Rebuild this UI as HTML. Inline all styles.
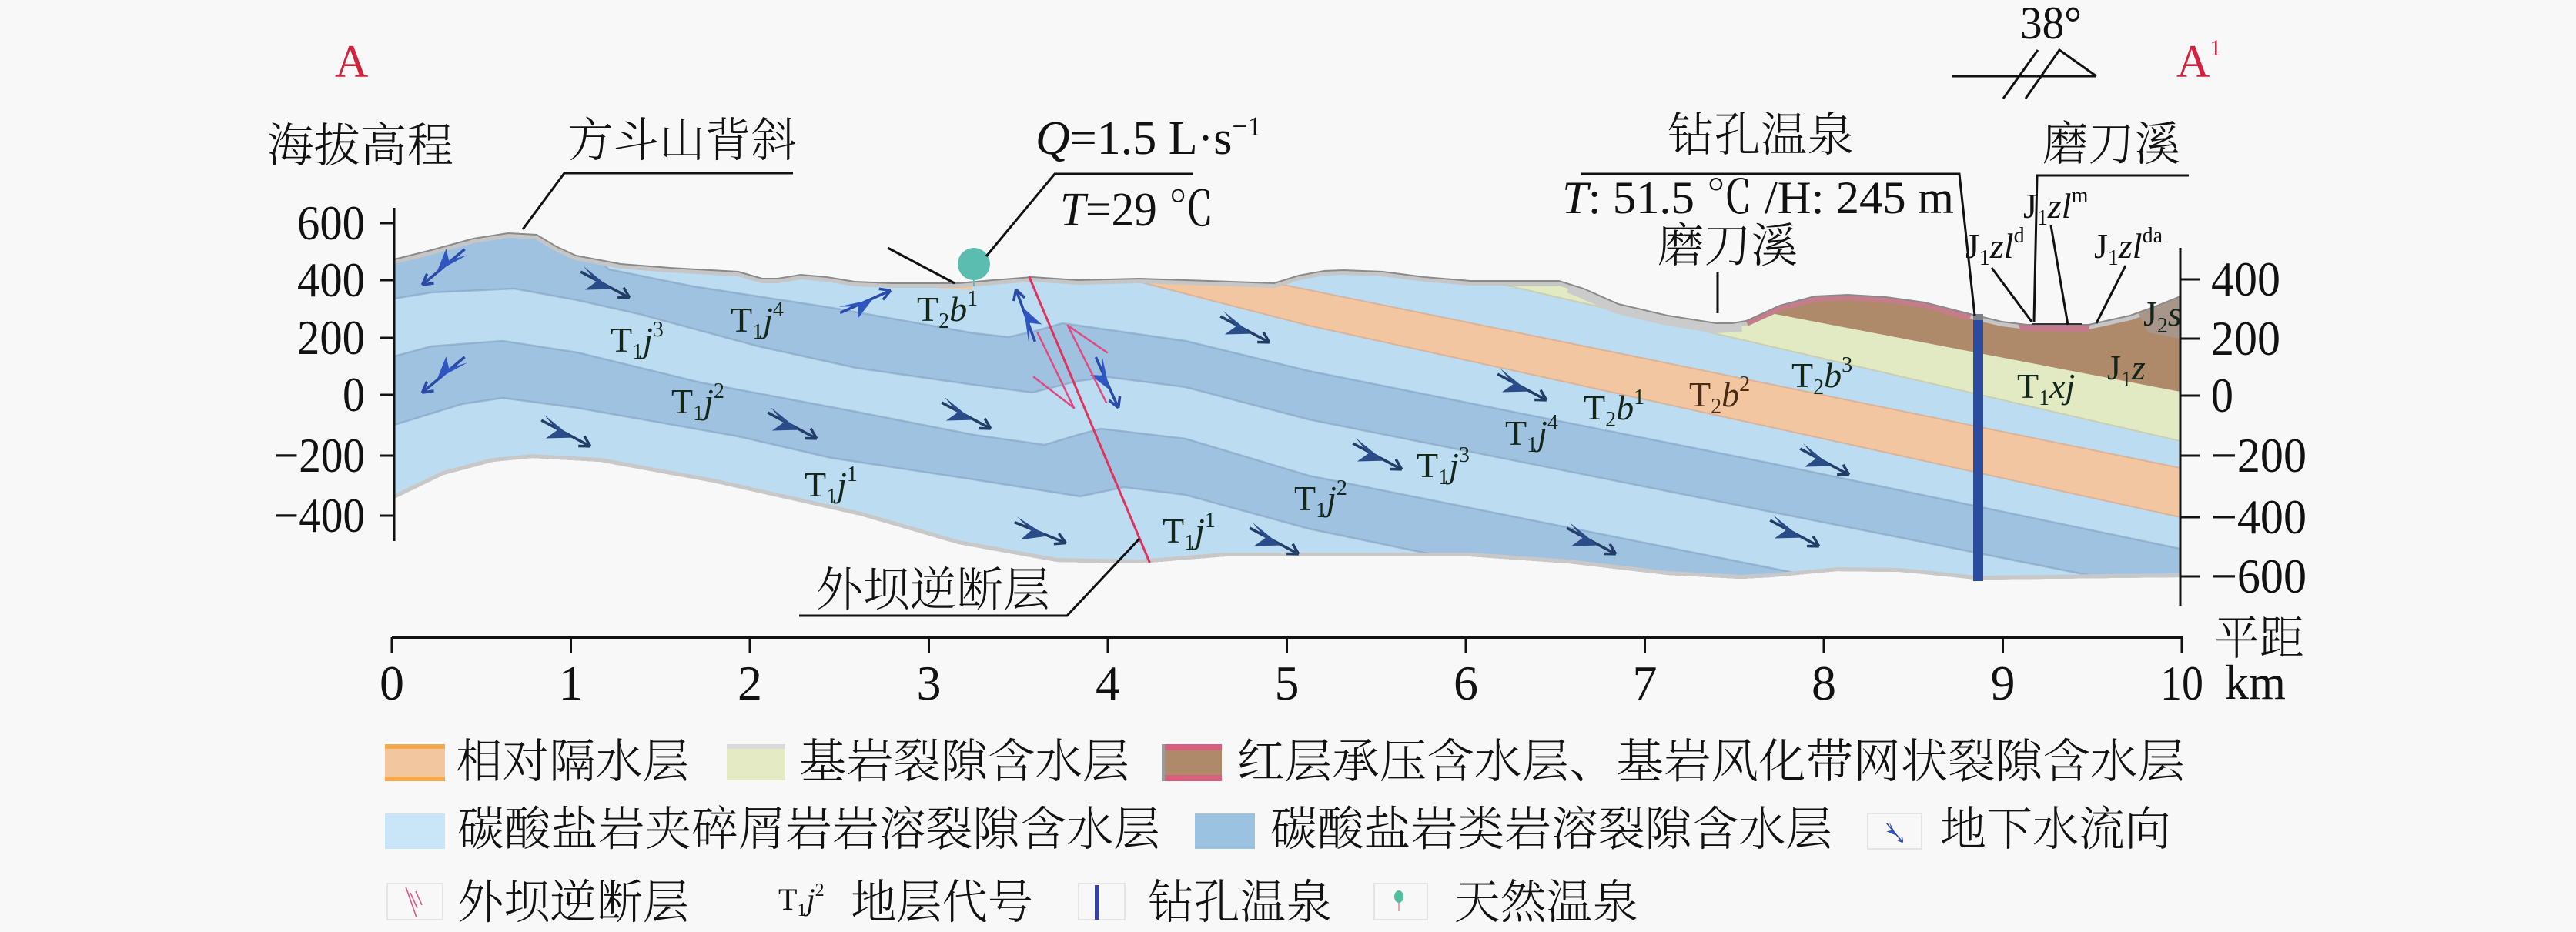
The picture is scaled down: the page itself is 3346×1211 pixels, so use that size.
<!DOCTYPE html>
<html><head><meta charset="utf-8"><style>
html,body{margin:0;padding:0;background:#f8f8f8;}
svg{display:block;}
text{font-family:"Liberation Serif","Noto Serif CJK SC",serif;fill:#111;}
.f{font-size:46px;fill:#14261a;}
.s{font-size:28px;}
.i{font-style:italic;}
.cj{font-size:61px;font-weight:300;}
.num{font-size:64px;}
</style></head><body>
<svg width="3346" height="1211" viewBox="0 0 3346 1211" xmlns="http://www.w3.org/2000/svg">
<defs>
<clipPath id="sec"><polygon points="512,337 560,325 615,310 660,303 697,305 722,320 748,332 806,343 870,348 959,353 990,362 1010,362 1040,357 1074,360 1110,366 1158,368 1245,368 1290,364 1341,360 1400,364 1480,362 1571,365 1655,368 1687,358 1720,352 1745,351 1796,353 1850,360 1910,365 2025,365 2057,375 2102,395 2166,410 2229,420 2250,420 2268,417 2312,397 2357,385 2400,383 2450,386 2500,393 2567,410 2600,418 2633,422 2713,422 2767,410 2800,398 2832,385 2832,750 2567,753 2500,746 2467,743 2387,742 2300,750 2261,752 2166,747 2038,732 1910,723 1591,723 1480,732 1373,730 1245,707 1118,670 927,627 780,600 691,595 640,600 576,617 512,648"/></clipPath>
<g id="arw">
<path d="M-36,0 L36,0" stroke="#223d66" stroke-width="3.5" fill="none"/>
<path d="M-36,-8 L10,1 L-20,18 L-12,2 Z" fill="#2a4c88"/>
<path d="M36,0 L23,-8 M36,0 L22,7" stroke="#223d66" stroke-width="3.5" fill="none"/>
</g>
<g id="barw">
<path d="M-36,0 L36,0" stroke="#2a4aa8" stroke-width="3.5" fill="none"/>
<path d="M-34,-8 L10,1 L-18,16 L-11,2 Z" fill="#2f55c0"/>
<path d="M36,0 L23,-8 M36,0 L22,7" stroke="#2a4aa8" stroke-width="3.5" fill="none"/>
</g>
</defs>

<!-- geological section -->
<g clip-path="url(#sec)">
<rect x="500" y="280" width="2340" height="480" fill="#ae8a6b"/>
<polygon fill="#e2eac4" points="512,64 2832,509 2832,800 512,800"/>
<polygon fill="#bcdcf2" points="512,37 2832,573 2832,800 512,800"/>
<polygon fill="#f2c6a0" points="512,134 2832,608 2832,800 512,800"/>
<polygon fill="#bcdcf2" points="512,120 1400,345 1487,368 1700,423 2832,672 2832,800 512,800"/>
<polygon fill="#9fc2e0" points="512,280 690,272 760,322 791,350 900,372 1081,400 1265,433 1310,438 1345,430 1380,420 1540,443 1700,482 2300,602 2832,713 2832,800 512,800"/>
<polygon fill="#bcdcf2" points="512,388 560,380 668,375 750,390 830,408 985,450 1112,478 1265,500 1341,510 1400,495 1440,490 1540,503 1700,545 2300,665 2832,771 2832,800 512,800"/>
<polygon fill="#9fc2e0" points="512,463 560,450 653,443 750,458 910,497 1112,535 1265,565 1357,578 1400,565 1430,557 1540,570 1700,618 2300,738 2832,845 2832,800 512,800"/>
<polygon fill="#bcdcf2" points="512,552 600,525 653,517 750,530 959,567 1080,595 1265,623 1403,645 1460,633 1540,643 1700,687 2300,812 2832,920 2832,800 512,800"/>
<g fill="none" stroke="#86a4c2" stroke-width="2.5" opacity="0.65">
<polyline points="512,280 690,272 760,322 791,350 900,372 1081,400 1265,433 1310,438 1345,430 1380,420 1540,443 1700,482 2300,602 2832,713"/>
<polyline points="512,388 560,380 668,375 750,390 830,408 985,450 1112,478 1265,500 1341,510 1400,495 1440,490 1540,503 1700,545 2300,665 2832,771"/>
<polyline points="512,463 560,450 653,443 750,458 910,497 1112,535 1265,565 1357,578 1400,565 1430,557 1540,570 1700,618 2300,738 2832,845"/>
<polyline points="512,552 600,525 653,517 750,530 959,567 1080,595 1265,623 1403,645 1460,633 1540,643 1700,687 2300,812 2832,920"/>
</g>
<g fill="none" stroke="#d9a27c" stroke-width="2" opacity="0.6">
<polyline points="512,134 2832,608"/>
<polyline points="512,120 1400,345 1487,368 1700,423 2832,672"/>
</g>
<polyline fill="none" stroke="#c9cfb0" stroke-width="2" points="512,37 2832,573"/>
<polygon fill="#f2c6a0" points="1215,366 1265,368 1262,377 1220,375"/>
<polyline fill="none" stroke="#c6c6c6" stroke-width="12" points="512,337 560,325 615,310 660,303 697,305 722,320 748,332 806,343 870,348 959,353 990,362 1010,362 1040,357 1074,360 1110,366 1158,368 1245,368 1290,364 1341,360 1400,364 1480,362 1571,365 1655,368 1687,358 1720,352 1745,351 1796,353 1850,360 1910,365 2025,365 2057,375 2102,395 2166,410 2229,420 2250,420 2268,417 2312,397 2357,385 2400,383 2450,386 2500,393 2567,410 2600,418 2633,422 2713,422 2767,410 2800,398 2832,385"/>
<polyline fill="none" stroke="#cbcbcb" stroke-width="26" points="2040,368 2057,375 2102,395 2166,410 2229,420 2262,418"/>
<polyline fill="none" stroke="#c57d8c" stroke-width="14" points="2268,417 2312,397 2357,385 2400,383 2450,386 2500,393 2560,410"/>
<polygon fill="#c47a8c" points="2620,418 2715,420 2712,432 2625,430"/>
<polygon fill="#a8968a" points="2775,402 2832,385 2832,440 2790,432"/>
<polyline fill="none" stroke="#c8c8c8" stroke-width="10" points="2832,750 2567,753 2500,746 2467,743 2387,742 2300,750 2261,752 2166,747 2038,732 1910,723 1591,723 1480,732 1373,730 1245,707 1118,670 927,627 780,600 691,595 640,600 576,617 512,648"/>
</g>
<polyline fill="none" stroke="#8a8a8a" stroke-width="2" points="512,337 560,325 615,310 660,303 697,305 722,320 748,332 806,343 870,348 959,353 990,362 1010,362 1040,357 1074,360 1110,366 1158,368 1245,368 1290,364 1341,360 1400,364 1480,362 1571,365 1655,368 1687,358 1720,352 1745,351 1796,353 1850,360 1910,365 2025,365 2057,375 2102,395 2166,410 2229,420 2250,420 2268,417 2312,397 2357,385 2400,383 2450,386 2500,393 2567,410 2600,418 2633,422 2713,422 2767,410 2800,398 2832,385"/>
<line x1="2639" y1="421" x2="2704" y2="421" stroke="#333" stroke-width="2"/>

<!-- flow arrows -->
<use href="#barw" transform="translate(576,347) rotate(140)"/>
<use href="#arw" transform="translate(786,370) rotate(28)"/>
<use href="#barw" transform="translate(1124,392) rotate(-24)"/>
<use href="#barw" transform="translate(576,487) rotate(140)"/>
<use href="#arw" transform="translate(735,563) rotate(28)"/>
<use href="#arw" transform="translate(1029,553) rotate(28)"/>
<use href="#arw" transform="translate(1255,540) rotate(28)"/>
<use href="#arw" transform="translate(1351,692) rotate(22)"/>
<use href="#arw" transform="translate(1617,428) rotate(28)"/>
<use href="#arw" transform="translate(1977,503) rotate(28)"/>
<use href="#arw" transform="translate(1789,593) rotate(28)"/>
<use href="#arw" transform="translate(1655,703) rotate(28)"/>
<use href="#arw" transform="translate(2067,703) rotate(28)"/>
<use href="#arw" transform="translate(2331,693) rotate(28)"/>
<use href="#arw" transform="translate(2370,600) rotate(28)"/>
<use href="#barw" transform="translate(1332,410) rotate(-110)"/>
<use href="#barw" transform="translate(1438,497) rotate(66)"/>

<!-- fault -->
<g stroke="#e0325e" fill="none" stroke-linecap="round">
<line x1="1337" y1="360" x2="1493" y2="730" stroke-width="3"/>
<line x1="1348" y1="433" x2="1395" y2="530" stroke-width="2.5" stroke="#e04a80"/>
<line x1="1343" y1="490" x2="1395" y2="530" stroke-width="2.5" stroke="#e04a80"/>
<line x1="1387" y1="423" x2="1437" y2="523" stroke-width="2.5" stroke="#e04a80"/>
<line x1="1387" y1="423" x2="1438" y2="458" stroke-width="2.5" stroke="#e04a80"/>
</g>

<!-- borehole -->
<rect x="2563" y="410" width="13" height="345" fill="#2b4c9e"/>
<rect x="2563" y="408" width="13" height="8" fill="#7a7f8a"/>

<!-- spring -->
<line x1="1265" y1="360" x2="1265" y2="372" stroke="#5bbcb0" stroke-width="2"/>
<ellipse cx="1265" cy="343" rx="21" ry="21" fill="#5bbcb0"/>

<!-- axes -->
<g stroke="#111" stroke-width="3" fill="none">
<line x1="512" y1="270" x2="512" y2="703"/>
<line x1="494" y1="290" x2="512" y2="290"/>
<line x1="494" y1="364" x2="512" y2="364"/>
<line x1="494" y1="439" x2="512" y2="439"/>
<line x1="494" y1="513" x2="512" y2="513"/>
<line x1="494" y1="592" x2="512" y2="592"/>
<line x1="494" y1="670" x2="512" y2="670"/>
<line x1="2832" y1="322" x2="2832" y2="787"/>
<line x1="2832" y1="363" x2="2857" y2="363"/>
<line x1="2832" y1="440" x2="2857" y2="440"/>
<line x1="2832" y1="514" x2="2857" y2="514"/>
<line x1="2832" y1="592" x2="2857" y2="592"/>
<line x1="2832" y1="672" x2="2857" y2="672"/>
<line x1="2832" y1="749" x2="2857" y2="749"/>
<line x1="509" y1="828" x2="2836" y2="828" stroke-width="4"/>
<line x1="509" y1="828" x2="509" y2="848"/>
<line x1="741.5" y1="828" x2="741.5" y2="848"/>
<line x1="974" y1="828" x2="974" y2="848"/>
<line x1="1206.5" y1="828" x2="1206.5" y2="848"/>
<line x1="1439" y1="828" x2="1439" y2="848"/>
<line x1="1671.5" y1="828" x2="1671.5" y2="848"/>
<line x1="1904" y1="828" x2="1904" y2="848"/>
<line x1="2136.5" y1="828" x2="2136.5" y2="848"/>
<line x1="2369" y1="828" x2="2369" y2="848"/>
<line x1="2601.5" y1="828" x2="2601.5" y2="848"/>
<line x1="2834" y1="828" x2="2834" y2="848"/>
</g>
<g>
<text class="num" x="474" y="311" text-anchor="end" textLength="88" lengthAdjust="spacingAndGlyphs">600</text>
<text class="num" x="474" y="385" text-anchor="end" textLength="88" lengthAdjust="spacingAndGlyphs">400</text>
<text class="num" x="474" y="460" text-anchor="end" textLength="88" lengthAdjust="spacingAndGlyphs">200</text>
<text class="num" x="474" y="534" text-anchor="end" textLength="29" lengthAdjust="spacingAndGlyphs">0</text>
<text class="num" x="474" y="613" text-anchor="end" textLength="118" lengthAdjust="spacingAndGlyphs">−200</text>
<text class="num" x="474" y="691" text-anchor="end" textLength="118" lengthAdjust="spacingAndGlyphs">−400</text>
<text class="num" x="2872" y="384" textLength="90" lengthAdjust="spacingAndGlyphs">400</text>
<text class="num" x="2872" y="461" textLength="90" lengthAdjust="spacingAndGlyphs">200</text>
<text class="num" x="2872" y="535" textLength="29" lengthAdjust="spacingAndGlyphs">0</text>
<text class="num" x="2872" y="613" textLength="124" lengthAdjust="spacingAndGlyphs">−200</text>
<text class="num" x="2872" y="693" textLength="124" lengthAdjust="spacingAndGlyphs">−400</text>
<text class="num" x="2872" y="770" textLength="124" lengthAdjust="spacingAndGlyphs">−600</text>
</g>
<g text-anchor="middle">
<text class="num" x="509" y="909">0</text>
<text class="num" x="741.5" y="909">1</text>
<text class="num" x="974" y="909">2</text>
<text class="num" x="1206.5" y="909">3</text>
<text class="num" x="1439" y="909">4</text>
<text class="num" x="1671.5" y="909">5</text>
<text class="num" x="1904" y="909">6</text>
<text class="num" x="2136.5" y="909">7</text>
<text class="num" x="2369" y="909">8</text>
<text class="num" x="2601.5" y="909">9</text>
<text class="num" x="2834" y="909" textLength="56" lengthAdjust="spacingAndGlyphs">10</text>
</g>
<text class="num" x="2890" y="908" textLength="79" lengthAdjust="spacingAndGlyphs">km</text>
<text class="cj" x="2876" y="850" textLength="117" lengthAdjust="spacingAndGlyphs">平距</text>

<!-- top labels -->
<text x="435" y="100" font-size="60" style="fill:#d4213d">A</text>
<text x="2827" y="100" font-size="60" style="fill:#d4213d">A<tspan font-size="30" dy="-28">1</tspan></text>
<text x="2624" y="50" font-size="60" textLength="80" lengthAdjust="spacingAndGlyphs">38°</text>
<g stroke="#111" stroke-width="3" fill="none">
<line x1="2536" y1="99" x2="2723" y2="99"/>
<polyline points="2631,128 2675,65 2723,99"/>
<line x1="2602" y1="128" x2="2647" y2="65"/>
</g>
<text class="cj" x="347" y="210" textLength="242" lengthAdjust="spacingAndGlyphs">海拔高程</text>
<text class="cj" x="737" y="203" textLength="298" lengthAdjust="spacingAndGlyphs">方斗山背斜</text>
<g stroke="#111" stroke-width="3" fill="none">
<polyline points="1030,225 733,225 679,298"/>
<polyline points="1549,226 1370,226 1281,333"/>
<line x1="1153" y1="322" x2="1240" y2="368"/>
<polyline points="2054,226 2545,226 2565,410"/>
<line x1="2231" y1="353" x2="2231" y2="407"/>
<polyline points="2843,228 2646,228 2642,418"/>
<line x1="2587" y1="348" x2="2639" y2="418"/>
<line x1="2664" y1="293" x2="2686" y2="422"/>
<line x1="2761" y1="345" x2="2723" y2="420"/>
<polyline points="1038,800 1386,800 1480,700"/>
</g>
<text x="1345" y="200" font-size="62"><tspan class="i">Q</tspan>=1.5 L·s<tspan font-size="36" dy="-24">−1</tspan></text>
<text x="1377" y="293" font-size="62" textLength="200" lengthAdjust="spacingAndGlyphs"><tspan class="i">T</tspan>=29 ℃</text>
<text class="cj" x="2166" y="196" textLength="242" lengthAdjust="spacingAndGlyphs">钻孔温泉</text>
<text x="2029" y="277" font-size="60" textLength="509" lengthAdjust="spacingAndGlyphs"><tspan class="i">T</tspan>: 51.5 ℃ /H: 245 m</text>
<text class="cj" x="2153" y="340" textLength="182" lengthAdjust="spacingAndGlyphs">磨刀溪</text>
<text class="cj" x="2653" y="208" textLength="179" lengthAdjust="spacingAndGlyphs">磨刀溪</text>
<text class="cj" x="1060" y="787" textLength="304" lengthAdjust="spacingAndGlyphs">外坝逆断层</text>

<!-- formation labels -->
<text class="f" x="793" y="457">T<tspan class="s" dy="9">1</tspan><tspan class="i" dy="-9">j</tspan><tspan class="s" dy="-20">3</tspan></text>
<text class="f" x="949" y="431">T<tspan class="s" dy="9">1</tspan><tspan class="i" dy="-9">j</tspan><tspan class="s" dy="-20">4</tspan></text>
<text class="f" x="1191" y="417">T<tspan class="s" dy="9">2</tspan><tspan class="i" dy="-9">b</tspan><tspan class="s" dy="-20">1</tspan></text>
<text class="f" x="872" y="537">T<tspan class="s" dy="9">1</tspan><tspan class="i" dy="-9">j</tspan><tspan class="s" dy="-20">2</tspan></text>
<text class="f" x="1045" y="645">T<tspan class="s" dy="9">1</tspan><tspan class="i" dy="-9">j</tspan><tspan class="s" dy="-20">1</tspan></text>
<text class="f" x="1510" y="705">T<tspan class="s" dy="9">1</tspan><tspan class="i" dy="-9">j</tspan><tspan class="s" dy="-20">1</tspan></text>
<text class="f" x="1681" y="663">T<tspan class="s" dy="9">1</tspan><tspan class="i" dy="-9">j</tspan><tspan class="s" dy="-20">2</tspan></text>
<text class="f" x="1840" y="620">T<tspan class="s" dy="9">1</tspan><tspan class="i" dy="-9">j</tspan><tspan class="s" dy="-20">3</tspan></text>
<text class="f" x="1955" y="578">T<tspan class="s" dy="9">1</tspan><tspan class="i" dy="-9">j</tspan><tspan class="s" dy="-20">4</tspan></text>
<text class="f" x="2057" y="545">T<tspan class="s" dy="9">2</tspan><tspan class="i" dy="-9">b</tspan><tspan class="s" dy="-20">1</tspan></text>
<text class="f" x="2194" y="528" style="fill:#4a2a12">T<tspan class="s" dy="9">2</tspan><tspan class="i" dy="-9">b</tspan><tspan class="s" dy="-20">2</tspan></text>
<text class="f" x="2327" y="503">T<tspan class="s" dy="9">2</tspan><tspan class="i" dy="-9">b</tspan><tspan class="s" dy="-20">3</tspan></text>
<text class="f" x="2620" y="517">T<tspan class="s" dy="9">1</tspan><tspan class="i" dy="-9">xj</tspan></text>
<text class="f" x="2737" y="493">J<tspan class="s" dy="9">1</tspan><tspan class="i" dy="-9">z</tspan></text>
<text class="f" x="2784" y="423">J<tspan class="s" dy="9">2</tspan><tspan class="i" dy="-9">s</tspan></text>
<text class="f" x="2628" y="283" style="fill:#111">J<tspan class="s" dy="9">1</tspan><tspan class="i" dy="-9">zl</tspan><tspan class="s" dy="-20">m</tspan></text>
<text class="f" x="2553" y="335" style="fill:#111">J<tspan class="s" dy="9">1</tspan><tspan class="i" dy="-9">zl</tspan><tspan class="s" dy="-20">d</tspan></text>
<text class="f" x="2720" y="335" style="fill:#111">J<tspan class="s" dy="9">1</tspan><tspan class="i" dy="-9">zl</tspan><tspan class="s" dy="-20">da</tspan></text>

<!-- legend row 1 -->
<rect x="500" y="967" width="78" height="48" fill="#f2c7a0"/>
<rect x="500" y="967" width="78" height="6" fill="#f7a84c"/>
<rect x="500" y="1009" width="78" height="6" fill="#f7a84c"/>
<text class="cj" x="592" y="1010" textLength="303" lengthAdjust="spacingAndGlyphs">相对隔水层</text>
<rect x="944" y="967" width="76" height="47" fill="#e3eac4"/>
<rect x="944" y="967" width="76" height="6" fill="#dadada"/>
<text class="cj" x="1038" y="1010" textLength="429" lengthAdjust="spacingAndGlyphs">基岩裂隙含水层</text>
<rect x="1509" y="967" width="78" height="48" fill="#ae8a6b"/>
<rect x="1509" y="967" width="78" height="8" fill="#d8607e"/>
<rect x="1509" y="1007" width="78" height="8" fill="#d8607e"/>
<rect x="1509" y="967" width="4" height="48" fill="#9a9a9a"/>
<text class="cj" x="1607" y="1010" textLength="1231" lengthAdjust="spacingAndGlyphs">红层承压含水层、基岩风化带网状裂隙含水层</text>
<!-- legend row 2 -->
<rect x="500" y="1057" width="78" height="46" fill="#c8e6f8"/>
<text class="cj" x="594" y="1098" textLength="913" lengthAdjust="spacingAndGlyphs">碳酸盐岩夹碎屑岩岩溶裂隙含水层</text>
<rect x="1552" y="1057" width="78" height="46" fill="#9cc2e1"/>
<text class="cj" x="1650" y="1098" textLength="730" lengthAdjust="spacingAndGlyphs">碳酸盐岩类岩溶裂隙含水层</text>
<rect x="2426" y="1057" width="70" height="46" fill="none" stroke="#e4e4e4" stroke-width="2"/>
<use href="#barw" transform="translate(2461,1082) rotate(50) scale(0.45)"/>
<text class="cj" x="2520" y="1098" textLength="300" lengthAdjust="spacingAndGlyphs">地下水流向</text>
<!-- legend row 3 -->
<rect x="503" y="1148" width="72" height="47" fill="none" stroke="#e4e4e4" stroke-width="2"/>
<g stroke="#e05a86" stroke-width="1.6" fill="none">
<line x1="527" y1="1152" x2="541" y2="1192"/>
<line x1="533" y1="1160" x2="542" y2="1180"/>
<line x1="540" y1="1158" x2="548" y2="1176"/>
</g>
<text class="cj" x="594" y="1193" textLength="301" lengthAdjust="spacingAndGlyphs">外坝逆断层</text>
<text x="1011" y="1182" font-size="40">T<tspan font-size="24" dy="8">1</tspan><tspan class="i" dy="-8">j</tspan><tspan font-size="24" dy="-18">2</tspan></text>
<text class="cj" x="1105" y="1193" textLength="237" lengthAdjust="spacingAndGlyphs">地层代号</text>
<rect x="1401" y="1148" width="60" height="47" fill="none" stroke="#e4e4e4" stroke-width="2"/>
<rect x="1422" y="1150" width="6" height="45" fill="#3a3fa0"/>
<text class="cj" x="1491" y="1193" textLength="239" lengthAdjust="spacingAndGlyphs">钻孔温泉</text>
<rect x="1785" y="1148" width="69" height="47" fill="none" stroke="#e4e4e4" stroke-width="2"/>
<line x1="1817" y1="1170" x2="1817" y2="1184" stroke="#e08a98" stroke-width="1.5"/>
<ellipse cx="1817" cy="1165" rx="6" ry="8" fill="#4fc0a0"/>
<text class="cj" x="1889" y="1193" textLength="239" lengthAdjust="spacingAndGlyphs">天然温泉</text>
</svg>
</body></html>
